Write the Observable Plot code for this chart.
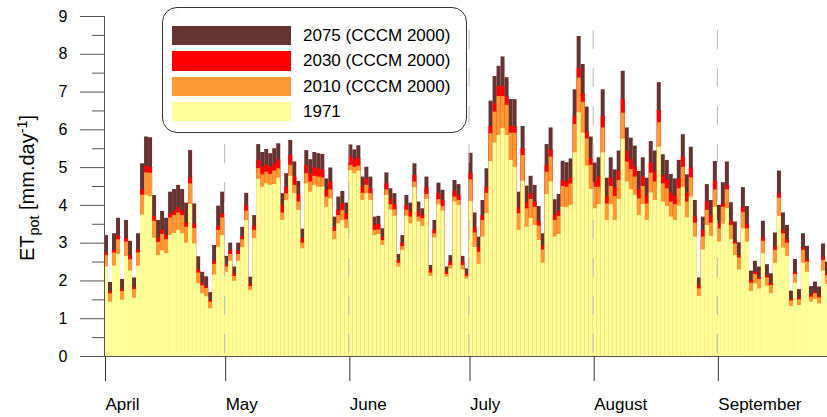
<!DOCTYPE html>
<html>
<head>
<meta charset="utf-8">
<script src="https://cdn.jsdelivr.net/npm/d3@7"></script>
<script src="https://cdn.jsdelivr.net/npm/@observablehq/plot@0.6"></script>
<style>
  html, body { margin: 0; padding: 0; background: #fff; }
  #chart { position: relative; width: 827px; height: 417px; font-family: "Liberation Sans", Arial, sans-serif; color: #000; }
  #chart svg { position: absolute; left: 0; top: 0; }
  .legend { position: absolute; left: 162px; top: 7px; width: 303px; height: 124px; border: 1px solid #333; border-radius: 15px; background: #fff; box-sizing: content-box; }
  .legend .row { position: absolute; left: 9px; height: 20px; display: flex; align-items: center; }
  .legend .sw { width: 119px; height: 19.5px; margin-right: 12px; }
  .legend .lbl { font-size: 17px; white-space: nowrap; }
  .ytitle { position: absolute; left: 28px; top: 188px; transform: translate(-50%, -50%) rotate(-90deg); font-size: 20px; white-space: nowrap; }
  .ytitle sub, .ytitle sup { font-size: 0.72em; }
</style>
</head>
<body>
<div id="chart"></div>
<script>
// Daily potential evapotranspiration, 1 April onwards (mm/day)
const et1971 = [
  2.37,1.44,2.39,2.70,1.49,2.65,2.26,1.54,2.39,3.74, 4.26,4.23,3.13,2.67,2.80,2.72,3.20,3.26,3.34,3.25,
  3.00,4.02,2.98,1.93,1.66,1.58,1.26,2.16,2.89,3.20, 2.23,2.52,1.99,2.52,2.88,3.60,1.75,3.12,4.69,4.48,
  4.57,4.53,4.55,4.72,3.60,4.13,4.77,4.31,3.87,2.85, 4.57,4.35,4.53,4.48,4.48,3.95,4.17,3.09,3.51,3.60,
  3.38,4.92,4.84,4.91,4.13,4.31,4.13,3.20,3.23,2.94, 4.26,3.87,3.71,2.37,2.81,3.71,3.51,4.47,3.56,3.44,
  4.16,2.12,3.14,4.02,3.85,2.10,2.32,4.09,4.00,2.29, 2.05,4.10,2.89,2.44,3.16,3.78,5.16,5.65,5.85,6.03,
  5.85,5.19,5.01,3.34,4.64,3.42,3.65,3.47,3.07,2.47, 4.29,4.62,3.16,3.23,3.95,3.94,4.00,5.39,6.45,5.91,
  5.04,4.42,3.91,4.02,5.39,3.60,4.02,3.60,4.16,5.75, 4.62,4.41,4.26,3.73,4.02,3.60,4.33,4.13,5.54,4.09,
  3.97,3.69,3.60,3.98,4.48,3.67,4.22,3.16,1.59,2.82, 3.47,3.18,3.95,3.03,3.50,3.91,3.09,2.67,2.29,3.38,
  3.03,1.72,1.92,1.79,2.72,1.86,1.66,2.47,3.71,2.87, 2.65,1.32,1.94,1.35,2.47,2.23,1.44,1.51,1.39,2.26,
  1.91
];
const et2010 = [
  2.67,1.66,2.74,3.09,1.72,3.03,2.56,1.77,2.74,4.27, 4.86,4.85,3.58,3.02,3.23,3.09,3.67,3.73,3.80,3.73,
  3.42,4.57,3.39,2.21,1.87,1.80,1.44,2.44,3.34,3.67, 2.37,2.70,2.12,2.70,3.09,3.85,1.85,3.34,4.97,4.81,
  4.88,4.82,4.91,4.97,3.80,4.31,5.06,4.53,4.09,3.00, 4.84,4.62,4.77,4.75,4.73,4.22,4.41,3.31,3.73,3.87,
  3.62,5.06,5.01,5.04,4.32,4.53,4.31,3.34,3.35,3.07, 4.41,4.02,3.88,2.47,2.91,3.87,3.69,4.62,3.69,3.65,
  4.29,2.21,3.25,4.15,3.97,2.17,2.41,4.22,4.13,2.41, 2.12,4.68,3.27,2.76,3.60,4.32,5.90,6.47,6.88,6.88,
  6.65,5.91,5.91,3.78,5.32,3.91,4.16,3.95,3.45,2.82, 4.88,5.28,3.60,3.71,4.50,4.48,4.57,6.14,7.37,6.73,
  5.76,5.06,4.48,4.48,6.05,4.04,4.50,4.24,4.66,6.44, 5.15,4.95,4.75,4.17,4.50,4.04,4.85,4.62,6.19,4.57,
  4.44,4.09,4.02,4.44,5.01,4.09,4.73,3.53,1.79,3.16, 3.87,3.53,4.41,3.38,3.95,4.41,3.47,2.98,2.61,3.82,
  3.38,1.94,2.17,2.04,3.05,2.08,1.88,2.81,4.19,3.25, 3.00,1.47,2.17,1.50,2.81,2.50,1.57,1.66,1.55,2.54,
  2.14
];
const et2030 = [
  2.76,1.71,2.81,3.19,1.78,3.13,2.67,1.82,2.82,4.41, 5.04,5.01,3.71,3.14,3.34,3.20,3.77,3.84,3.94,3.85,
  3.53,4.73,3.51,2.30,1.94,1.84,1.48,2.52,3.45,3.78, 2.44,2.79,2.19,2.79,3.18,4.00,1.91,3.46,5.19,5.01,
  5.07,5.01,5.10,5.21,4.00,4.48,5.32,4.75,4.29,3.12, 5.06,4.84,4.99,4.97,4.94,4.40,4.62,3.42,3.88,4.04,
  3.78,5.30,5.21,5.25,4.48,4.70,4.44,3.47,3.50,3.16, 4.57,4.17,4.02,2.54,3.00,4.00,3.82,4.79,3.82,3.73,
  4.47,2.28,3.35,4.31,4.13,2.23,2.50,4.37,4.26,2.50, 2.18,4.85,3.41,2.88,3.73,4.48,6.09,6.69,7.15,7.15,
  6.88,6.09,6.09,3.93,5.50,4.07,4.31,4.09,3.57,2.94, 5.06,5.47,3.73,3.85,4.66,4.62,4.73,6.36,7.63,6.95,
  5.94,5.23,4.62,4.75,6.36,4.24,4.73,4.47,4.90,6.80, 5.43,5.21,5.01,4.42,4.75,4.26,5.12,4.88,6.51,4.79,
  4.68,4.33,4.25,4.69,5.28,4.32,4.99,3.71,1.88,3.34, 4.10,3.73,4.64,3.51,4.04,4.53,3.58,3.05,2.67,3.94,
  3.50,2.01,2.23,2.10,3.14,2.14,1.94,2.90,4.32,3.34, 3.09,1.51,2.23,1.55,2.88,2.56,1.62,1.70,1.60,2.63,
  2.21
];
const et2075 = [
  3.20,1.96,3.25,3.66,2.04,3.60,3.05,2.08,3.25,5.10, 5.81,5.79,4.26,3.60,3.84,3.66,4.35,4.42,4.53,4.42,
  4.06,5.45,4.04,2.64,2.23,2.11,1.69,2.94,3.98,4.35, 2.65,3.00,2.37,3.00,3.42,4.32,2.10,3.73,5.61,5.40,
  5.48,5.37,5.50,5.63,4.31,4.84,5.72,5.15,4.63,3.37, 5.45,5.21,5.40,5.37,5.35,4.70,4.99,3.69,4.22,4.37,
  4.06,5.60,5.47,5.58,4.75,5.01,4.75,3.69,3.71,3.38, 4.86,4.44,4.31,2.70,3.20,4.26,4.06,5.10,4.09,3.91,
  4.75,2.41,3.60,4.59,4.40,2.37,2.67,4.66,4.55,2.65, 2.32,5.38,3.80,3.16,4.13,4.97,6.76,7.41,7.68,7.93,
  7.38,6.80,6.80,4.35,6.09,4.51,4.77,4.53,3.97,3.25, 5.61,6.05,4.15,4.29,5.17,5.13,5.23,7.06,8.47,7.73,
  6.60,5.81,5.12,5.26,7.06,4.72,5.26,4.94,5.44,7.55, 6.05,5.78,5.57,4.90,5.26,4.72,5.69,5.44,7.25,5.34,
  5.19,4.82,4.70,5.19,5.87,4.81,5.54,4.13,2.08,3.69, 4.55,4.13,5.16,4.00,4.60,5.15,4.07,3.56,3.01,4.47,
  3.97,2.26,2.52,2.37,3.58,2.43,2.19,3.27,4.91,3.80, 3.47,1.73,2.57,1.77,3.25,2.92,1.85,1.97,1.84,2.98,
  2.50
];

const seriesLabels = ["2075 (CCCM 2000)", "2030 (CCCM 2000)", "2010 (CCCM 2000)", "1971"];
const seriesColors = ["#663333", "#ff0000", "#ff9933", "#ffff99"];
const seriesValues = [et2075, et2030, et2010, et1971];
const monthLabels = ["April", "May", "June", "July", "August", "September"];
const yTicks = [0, 1, 2, 3, 4, 5, 6, 7, 8, 9];

const start = new Date(Date.UTC(1971, 3, 1));
const dayRows = (values) => values.map((v, i) => ({
  date: d3.utcDay.offset(start, i),
  next: d3.utcDay.offset(start, i + 1),
  value: v
}));
const xEnd = new Date(+start + (et1971.length - 0.5) * 864e5);
const monthStarts = d3.utcMonth.range(start, xEnd);

// Tallest scenario first so each lower one is painted over it
const barMarks = seriesValues.map((vals, k) =>
  Plot.rectY(dayRows(vals), {x1: "date", x2: "next", y1: 0, y2: "value", fill: seriesColors[k], inset: 0})
);

const chart = Plot.plot({
  width: 827,
  height: 417,
  marginLeft: 104,
  marginRight: 0,
  marginTop: 16,
  marginBottom: 61,
  style: {fontFamily: '"Liberation Sans", Arial, sans-serif', color: "#000", background: "#fff"},
  x: {type: "utc", domain: [start, xEnd], axis: null},
  y: {domain: [0, 9], axis: null},
  marks: [
    ...barMarks,
    // month gridlines
    Plot.ruleX(monthStarts.slice(1), {y1: 8.63, y2: 0, stroke: "#b8b8b8", strokeWidth: 1, strokeDasharray: "19 19"}),
    // y axis: major and half-step ticks
    Plot.axisY({ticks: yTicks, tickSize: 24, tickPadding: 13, fontSize: 16, label: null, stroke: "#555", strokeOpacity: 1}),
    Plot.axisY({ticks: d3.range(0.5, 9, 1), tickSize: 12, tickFormat: () => "", label: null, stroke: "#555", strokeOpacity: 1}),
    Plot.ruleX([start], {y1: 0, y2: 9, stroke: "#555"}),
    Plot.ruleY([0], {stroke: "#555"}),
    // x axis: month starts
    Plot.axisX({
      ticks: monthStarts,
      tickSize: 25,
      tickPadding: 16,
      tickFormat: (d) => monthLabels[d.getUTCMonth() - 3],
      textAnchor: "start",
      dx: 1,
      fontSize: 17,
      label: null,
      stroke: "#333",
      strokeOpacity: 1
    })
  ]
});

const root = document.getElementById("chart");
root.appendChild(chart);

// Legend box
const legend = document.createElement("div");
legend.className = "legend";
const rowTops = [17.5, 43, 68.5, 93.5];
seriesLabels.forEach((label, k) => {
  const row = document.createElement("div");
  row.className = "row";
  row.style.top = rowTops[k] + "px";
  const sw = document.createElement("div");
  sw.className = "sw";
  sw.style.background = seriesColors[k];
  const t = document.createElement("span");
  t.className = "lbl";
  t.textContent = label;
  row.appendChild(sw);
  row.appendChild(t);
  legend.appendChild(row);
});
root.appendChild(legend);

// Y axis title with subscript and superscript
const ytitle = document.createElement("div");
ytitle.className = "ytitle";
ytitle.innerHTML = "ET<sub>pot</sub> [mm.day<sup>-1</sup>]";
root.appendChild(ytitle);
</script>
</body>
</html>
